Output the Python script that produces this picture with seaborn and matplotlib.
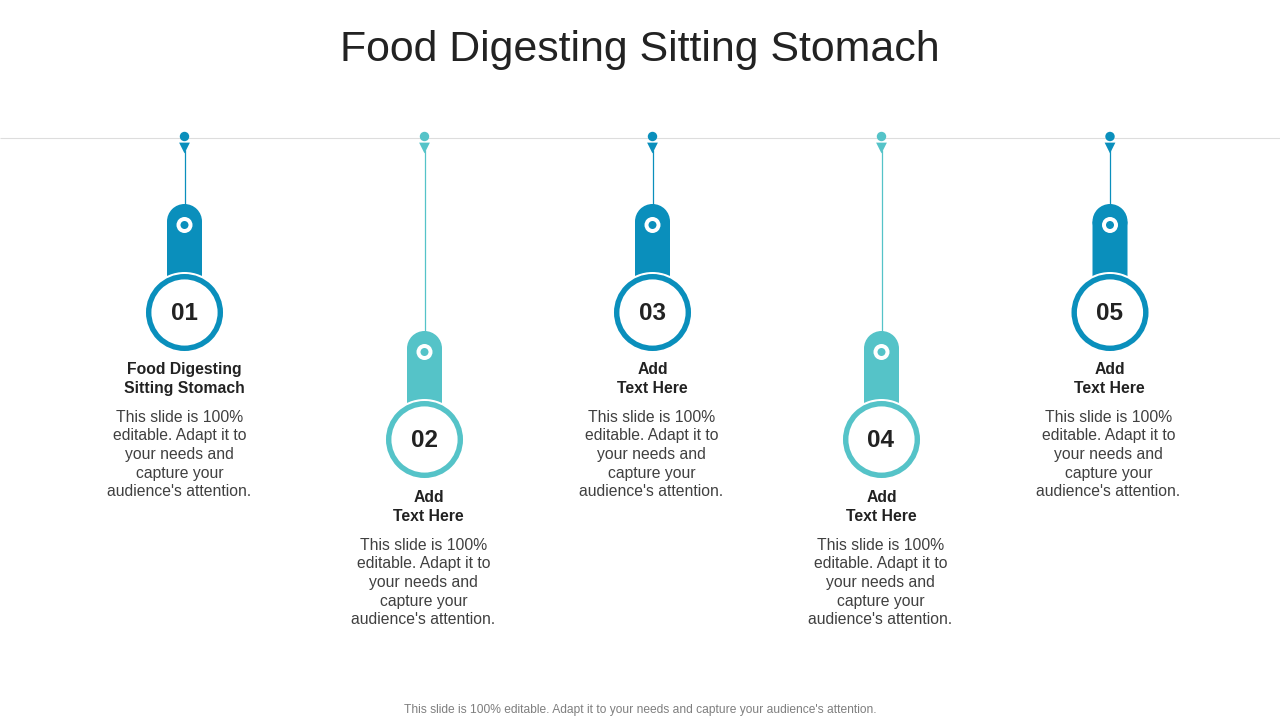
import matplotlib
matplotlib.use("Agg")
import matplotlib.pyplot as plt
from matplotlib.patches import Circle, Rectangle
import pandas as pd
import seaborn as sns

sns.set_theme(style="white")
plt.rcParams['font.family'] = ['Liberation Sans', 'DejaVu Sans']

title = "Food Digesting Sitting Stomach"
footer = "This slide is 100% editable. Adapt it to your needs and capture your audience's attention."
steps = ["01", "02", "03", "04", "05"]
headings = ["Food Digesting\nSitting Stomach", "Add\nText Here", "Add\nText Here", "Add\nText Here", "Add\nText Here"]
body = "This slide is 100%\neditable. Adapt it to\nyour needs and\ncapture your\naudience's attention."
pin_x = [184.5, 424.5, 652.5, 881.5, 1110]
ring_y = [312.5, 439.5, 312.5, 439.5, 312.5]
heading_x = [184.5, 428.5, 652.5, 881.5, 1109.5]
heading_y = [379, 507, 379, 507, 379]
body_x = [179.5, 423.5, 651.5, 880.5, 1108.5]
body_y = [454.5, 582.5, 454.5, 582.5, 454.5]
tones = ["a", "b", "a", "b", "a"]
palette = {"a": "#0A8FBC", "b": "#55C3C8"}
INK = "#222222"

fig = plt.figure(figsize=(12.8, 7.2), dpi=100, facecolor="white")
ax = fig.add_axes([0, 0, 1, 1])

df = pd.DataFrame({"x": pin_x, "y": [136.5] * 5, "tone": tones})
sns.scatterplot(data=df, x="x", y="y", hue="tone", palette=palette, s=46,
                linewidth=0, legend=False, ax=ax, zorder=5)
df_tri = df.assign(y=148)
sns.scatterplot(data=df_tri, x="x", y="y", hue="tone", palette=palette, s=60, marker="v",
                linewidth=0, legend=False, ax=ax, zorder=5)

ax.set_xlim(0, 1280)
ax.set_ylim(720, 0)
ax.set_aspect("equal")
ax.axis("off")

ax.plot([0, 1280], [138, 138], color="#DDDDDD", lw=0.8, zorder=1, solid_capstyle="butt")

for x, ry, tone, step, head, bx, hx, by, hy in zip(pin_x, ring_y, tones, steps, headings,
                                                   body_x, heading_x, body_y, heading_y):
    c = palette[tone]
    top = ry - 108.5
    ax.plot([x, x], [150, top + 2], color=c, lw=0.9, zorder=2, solid_capstyle="butt")
    ax.add_patch(Circle((x, top + 17.5), 17.5, fc=c, ec="none", zorder=3))
    ax.add_patch(Rectangle((x - 17.5, top + 17.5), 35, 62, fc=c, ec="none", zorder=3, snap=False))
    ax.add_patch(Circle((x, top + 21), 8, fc="white", ec="none", zorder=4))
    ax.add_patch(Circle((x, top + 21), 4, fc=c, ec="none", zorder=5))
    ax.add_patch(Circle((x, ry), 40.5, fc="white", ec="none", zorder=6))
    ax.add_patch(Circle((x, ry), 35.8, fc="white", ec=c, lw=3.9, zorder=7))
    ax.text(x - 0.5, ry + 1, step, ha="center", va="center", fontsize=17.5, fontweight="bold", color=INK, zorder=8)
    ax.text(hx, hy, head, ha="center", va="center", fontsize=11.3, fontweight="bold",
            color=INK, linespacing=1.3)
    ax.text(bx, by, body, ha="center", va="center", fontsize=11.3,
            color="#404040", linespacing=1.3)

ax.text(640, 61, title, ha="center", va="baseline", fontsize=30.9, color=INK)
ax.text(640, 709.5, footer, ha="center", va="center", fontsize=8.65, color="#7F7F7F")

fig.savefig("out.png", dpi=100, facecolor="white")
